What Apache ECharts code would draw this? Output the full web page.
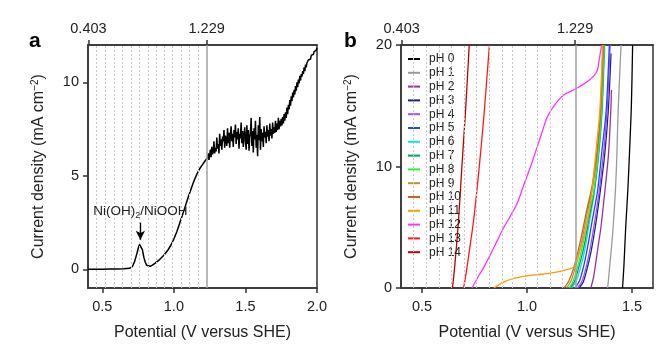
<!DOCTYPE html>
<html><head><meta charset="utf-8">
<script src="https://cdn.jsdelivr.net/npm/echarts@6/dist/echarts.min.js"></script>
<style>html,body{margin:0;padding:0;background:#fff}#c{width:671px;height:347px}</style>
</head><body><div id="c"></div>
<script>
const FONT = 'Liberation Sans';
// tick labels
const aXTicks = [0.5, 1.0, 1.5, 2.0];
const aYTicks = [0, 5, 10];
const bXTicks = [0.5, 1.0, 1.5];
const bYTicks = [0, 10, 20];
const topTicks = [0.403, 1.229];
// reference potentials (1.229 - 0.059 pH)
const phRefPotentials = [0.462,0.521,0.580,0.639,0.698,0.757,0.816,0.875,0.934,0.993,1.052,1.111,1.170];
const oerPotential = 1.229;

// panel a: LSV curve (smooth part)
const aCurveLow = [[0.40,0.00],[0.45,0.00],[0.50,0.00],[0.55,0.01],[0.60,0.02],[0.65,0.03],[0.69,0.05],[0.71,0.15],[0.725,0.40],[0.74,0.80],[0.752,1.15],[0.760,1.33],[0.766,1.40],[0.772,1.33],[0.780,1.05],[0.790,0.65],[0.800,0.38],[0.810,0.22],[0.820,0.16],[0.835,0.16],[0.85,0.22],[0.87,0.33],[0.90,0.52],[0.93,0.75],[0.96,1.05],[0.98,1.30],[1.00,1.62],[1.02,2.00],[1.04,2.45],[1.06,2.90],[1.08,3.38],[1.10,3.85],[1.12,4.30],[1.14,4.72],[1.16,5.08],[1.18,5.38],[1.20,5.60],[1.22,5.82]];
// panel a: noisy part
const aCurveHigh = [[1.235,5.95],[1.240,6.20],[1.245,5.85],[1.250,6.10],[1.255,6.40],[1.260,6.00],[1.265,6.55],[1.270,6.15],[1.275,6.30],[1.280,6.85],[1.285,6.20],[1.290,6.50],[1.295,6.30],[1.300,7.05],[1.305,6.45],[1.310,6.70],[1.315,6.20],[1.320,7.25],[1.325,6.60],[1.330,6.95],[1.335,6.40],[1.340,7.10],[1.345,6.85],[1.350,7.45],[1.355,6.50],[1.360,7.15],[1.365,6.90],[1.370,6.60],[1.375,7.55],[1.380,6.75],[1.385,7.30],[1.390,6.50],[1.395,7.20],[1.400,7.65],[1.405,6.85],[1.410,7.25],[1.415,6.55],[1.420,7.45],[1.425,7.05],[1.430,7.75],[1.435,6.70],[1.440,7.35],[1.445,6.95],[1.450,7.55],[1.455,6.45],[1.460,7.25],[1.465,7.00],[1.470,7.85],[1.475,6.75],[1.480,7.40],[1.485,6.55],[1.490,7.15],[1.495,7.60],[1.500,6.85],[1.505,6.40],[1.510,7.70],[1.515,6.70],[1.520,7.45],[1.525,6.35],[1.530,7.05],[1.535,7.35],[1.540,8.10],[1.545,6.60],[1.550,7.40],[1.555,6.25],[1.560,7.55],[1.565,6.95],[1.570,7.95],[1.575,6.50],[1.580,7.20],[1.585,6.05],[1.590,7.70],[1.595,6.90],[1.600,8.15],[1.605,6.40],[1.610,7.50],[1.615,6.85],[1.620,7.30],[1.625,6.55],[1.630,7.65],[1.635,7.05],[1.640,7.35],[1.645,6.75],[1.650,7.70],[1.655,7.10],[1.660,7.45],[1.665,6.85],[1.670,7.80],[1.675,7.15],[1.680,7.50],[1.685,7.00],[1.690,7.85],[1.695,7.25],[1.700,7.60],[1.705,7.30],[1.710,7.95],[1.715,7.35],[1.720,7.80],[1.725,7.45],[1.730,8.10],[1.735,7.50],[1.740,7.95],[1.745,7.65],[1.750,8.05],[1.755,7.70],[1.760,8.15],[1.765,7.80],[1.770,8.30],[1.775,7.95],[1.780,8.40],[1.785,8.10],[1.790,8.65],[1.795,8.30],[1.800,8.80],[1.805,8.55],[1.810,9.05],[1.815,8.75],[1.820,9.25],[1.825,9.00],[1.830,9.45],[1.835,9.20],[1.840,9.60],[1.845,9.35],[1.850,9.80],[1.855,9.55],[1.860,10.00],[1.865,9.75],[1.870,10.15],[1.875,9.95],[1.880,10.35],[1.885,10.10],[1.890,10.45],[1.895,10.30],[1.900,10.60],[1.905,10.45],[1.910,10.80],[1.915,10.60],[1.920,10.95],[1.925,10.80],[1.930,11.05],[1.935,10.95],[1.940,11.20],[1.945,11.15],[1.950,11.30],[1.955,11.25],[1.960,11.45],[1.965,11.40],[1.970,11.55],[1.975,11.50],[1.980,11.65],[1.985,11.60],[1.990,11.75],[1.995,11.72],[2.000,11.85]];
const peakPotential = 0.766;

// panel b: one curve per pH
const phNames = ['pH 0','pH 1','pH 2','pH 3','pH 4','pH 5','pH 6','pH 7','pH 8','pH 9','pH 10','pH 11','pH 12','pH 13','pH 14'];
const phColors = ['#000000','#9a9a9a','#993399','#1a237e','#a64dff','#1f45ff','#00e5ff','#00a050','#33ee33','#b8962e','#c0662a','#ff9900','#ff33ff','#ff1a1a','#c00000'];
const ph0 = [[1.455,0],[1.462,2],[1.470,5],[1.480,8],[1.489,11.5],[1.497,15],[1.503,20]];
const ph1 = [[1.384,0],[1.395,2],[1.408,4.5],[1.421,8],[1.428,11],[1.434,14.6],[1.448,20]];
const ph2 = [[1.304,0],[1.318,1],[1.335,3],[1.352,5],[1.371,8],[1.388,11],[1.399,14.6],[1.402,16.3]];
const ph3 = [[1.248,0],[1.268,0.5],[1.285,1.5],[1.305,3],[1.325,5],[1.349,8],[1.370,11],[1.387,14.6],[1.400,19.3]];
const ph4 = [[1.240,0],[1.260,0.5],[1.280,1.6],[1.300,3.2],[1.320,5.2],[1.344,8],[1.365,11.2],[1.383,15],[1.396,20]];
const ph5 = [[1.228,0],[1.250,0.6],[1.270,1.8],[1.290,3.5],[1.310,5.5],[1.336,8],[1.358,11.5],[1.377,14.6],[1.392,20]];
const ph6 = [[1.212,0],[1.232,0.5],[1.252,1.5],[1.276,3.2],[1.298,5.5],[1.322,8],[1.342,11],[1.358,14.6],[1.370,20]];
const ph7 = [[1.205,0],[1.225,0.5],[1.245,1.6],[1.270,3.3],[1.294,5.6],[1.320,8],[1.340,11],[1.356,14.6],[1.368,20]];
const ph8 = [[1.200,0],[1.220,0.6],[1.240,1.7],[1.265,3.5],[1.290,5.8],[1.318,8],[1.339,11],[1.355,14.6],[1.367,20]];
const ph9 = [[1.188,0],[1.210,0.6],[1.232,1.8],[1.258,3.6],[1.285,6.0],[1.315,8.5],[1.336,11.2],[1.352,14.6],[1.364,20]];
const ph10 = [[1.176,0],[1.200,0.6],[1.225,1.8],[1.252,3.7],[1.282,6.2],[1.312,8.6],[1.334,11.4],[1.350,14.6],[1.362,20]];
const ph11 = [[0.842,0],[0.870,0.3],[0.890,0.5],[0.920,0.7],[0.954,0.86],[1.000,1.0],[1.050,1.1],[1.097,1.19],[1.140,1.30],[1.177,1.46],[1.210,1.62],[1.225,1.75],[1.235,2.1],[1.248,2.9],[1.265,3.9],[1.288,5.4],[1.309,8],[1.330,11.5],[1.347,14.6],[1.360,20]];
const ph12 = [[0.738,0],[0.760,0.7],[0.794,1.7],[0.830,2.9],[0.858,3.9],[0.890,5.0],[0.920,5.9],[0.954,7.0],[0.985,8.5],[1.017,10.0],[1.050,11.7],[1.075,13.0],[1.097,14.1],[1.137,15.2],[1.177,15.9],[1.233,16.4],[1.296,17.1],[1.332,17.8],[1.344,18.8],[1.355,20]];
const ph13 = [[0.698,0],[0.710,1.2],[0.725,3.0],[0.746,5.6],[0.770,9.5],[0.795,14.2],[0.821,20]];
const ph14 = [[0.645,0],[0.652,1.1],[0.662,3.0],[0.674,5.6],[0.690,10],[0.708,14.8],[0.725,20]];
const phCurves = [ph0,ph1,ph2,ph3,ph4,ph5,ph6,ph7,ph8,ph9,ph10,ph11,ph12,ph13,ph14];

const axisColor = '#333';
const tickFont = {fontFamily: FONT, fontSize: 14.5, color: '#222'};
const nameFont = {fontFamily: FONT, fontSize: 16, color: '#222', rich: {sup: {fontFamily: FONT, fontSize: 10, verticalAlign: 'top', padding: [0,0,8,0], color:'#222'}}};

function bottomX(gi, max, ticks) {
  return {type:'value', gridIndex: gi, position:'bottom', min:0.4, max:max,
    name:'Potential (V versus SHE)', nameLocation:'middle', nameGap:37, nameTextStyle:{fontFamily:FONT,fontSize:16,color:'#222'},
    axisLine:{show:true, onZero:false, lineStyle:{color:axisColor,width:1.5}},
    axisTick:{show:true, length:5, customValues:ticks, lineStyle:{color:axisColor,width:1.5}},
    axisLabel:{customValues:ticks, margin:11, formatter:v=>v.toFixed(1), ...tickFont},
    splitLine:{show:false}};
}
function topX(gi, max) {
  return {type:'value', gridIndex: gi, position:'top', min:0.4, max:max,
    axisLine:{show:true, onZero:false, lineStyle:{color:axisColor,width:1.5}},
    axisTick:{show:true, length:5, customValues:topTicks, lineStyle:{color:axisColor,width:1.5}},
    axisLabel:{customValues:topTicks, margin:9, formatter:v=>v.toFixed(3), ...tickFont},
    splitLine:{show:false}};
}
function leftY(gi, min, max, ticks) {
  return {type:'value', gridIndex: gi, min:min, max:max,
    name:'Current density (mA cm{sup|−2})', nameLocation:'middle', nameGap:40, nameTextStyle:nameFont,
    axisLine:{show:true, onZero:false, lineStyle:{color:axisColor,width:1.5}},
    axisTick:{show:true, length:5, customValues:ticks, lineStyle:{color:axisColor,width:1.5}},
    axisLabel:{customValues:ticks, margin:9, ...tickFont},
    splitLine:{show:false}};
}
function refLines(xi, yi) {
  return {type:'line', xAxisIndex:xi, yAxisIndex:yi, data:[], silent:true,
    markLine:{silent:true, symbol:['none','none'], label:{show:false},
      data: phRefPotentials.map(v=>({xAxis:v, lineStyle:{color:'#c8c8c8', width:1, type:[2,2]}}))
        .concat([{xAxis:oerPotential, lineStyle:{color:'#a0a0a0', width:1.5, type:'solid'}}])}};
}

const series = [
  refLines(0,0), refLines(2,1),
  {type:'line', name:'LSV', xAxisIndex:0, yAxisIndex:0, data: aCurveLow.concat(aCurveHigh), showSymbol:false,
   lineStyle:{color:'#000', width:1.5}, itemStyle:{color:'#000'},
   markLine:{silent:true, symbol:['none','arrow'], symbolSize:[7,9], label:{show:false},
     lineStyle:{color:'#000', width:1.3, type:'solid'},
     data:[[{coord:[peakPotential,2.5]},{coord:[peakPotential,1.58]}]]},
   markPoint:{silent:true, symbol:'rect', symbolSize:[1,1], itemStyle:{color:'rgba(0,0,0,0)'},
     label:{show:true, position:'inside', formatter:'Ni(OH){s|2}/NiOOH',
       fontFamily:FONT, fontSize:13.5, color:'#222', rich:{s:{fontFamily:FONT, fontSize:9, verticalAlign:'bottom', padding:[8,0,0,0], color:'#222'}}},
     data:[{coord:[peakPotential,3.1], value:0}]}}
];
phCurves.forEach((d,i)=>{
  series.push({type:'line', name:phNames[i], xAxisIndex:2, yAxisIndex:1, data:d, showSymbol:false, smooth:0.3,
    lineStyle:{color:phColors[i], width:1.3}, itemStyle:{color:phColors[i]}, clip:true});
});

const option = {
  animation:false,
  backgroundColor:'#fff',
  grid:[
    {left:88, top:45, width:229, height:243, show:true, borderColor:axisColor, borderWidth:1.5, backgroundColor:'transparent'},
    {left:401, top:45, width:252, height:243, show:true, borderColor:axisColor, borderWidth:1.5, backgroundColor:'transparent'}
  ],
  xAxis:[bottomX(0,2.0,aXTicks), topX(0,2.0), bottomX(1,1.6,bXTicks), topX(1,1.6)],
  yAxis:[leftY(0,-1,12,aYTicks), leftY(1,0,20,bYTicks)],
  legend:{data:phNames, orient:'vertical', left:403, top:48, itemWidth:12, itemHeight:2, itemGap:1.8, icon:'rect',
    textStyle:{fontFamily:FONT, fontSize:12, color:'#222', lineHeight:12, padding:[0,0,0,4]}, selectedMode:false},
  graphic:[
    {type:'text', left:29, top:31, style:{text:'a', fontFamily:FONT, fontSize:21, fontWeight:'bold', fill:'#000'}},
    {type:'text', left:344, top:31, style:{text:'b', fontFamily:FONT, fontSize:21, fontWeight:'bold', fill:'#000'}}
  ],
  series: series
};
const chart = echarts.init(document.getElementById('c'), null, {renderer:'canvas'});
chart.setOption(option);
</script></body></html>
